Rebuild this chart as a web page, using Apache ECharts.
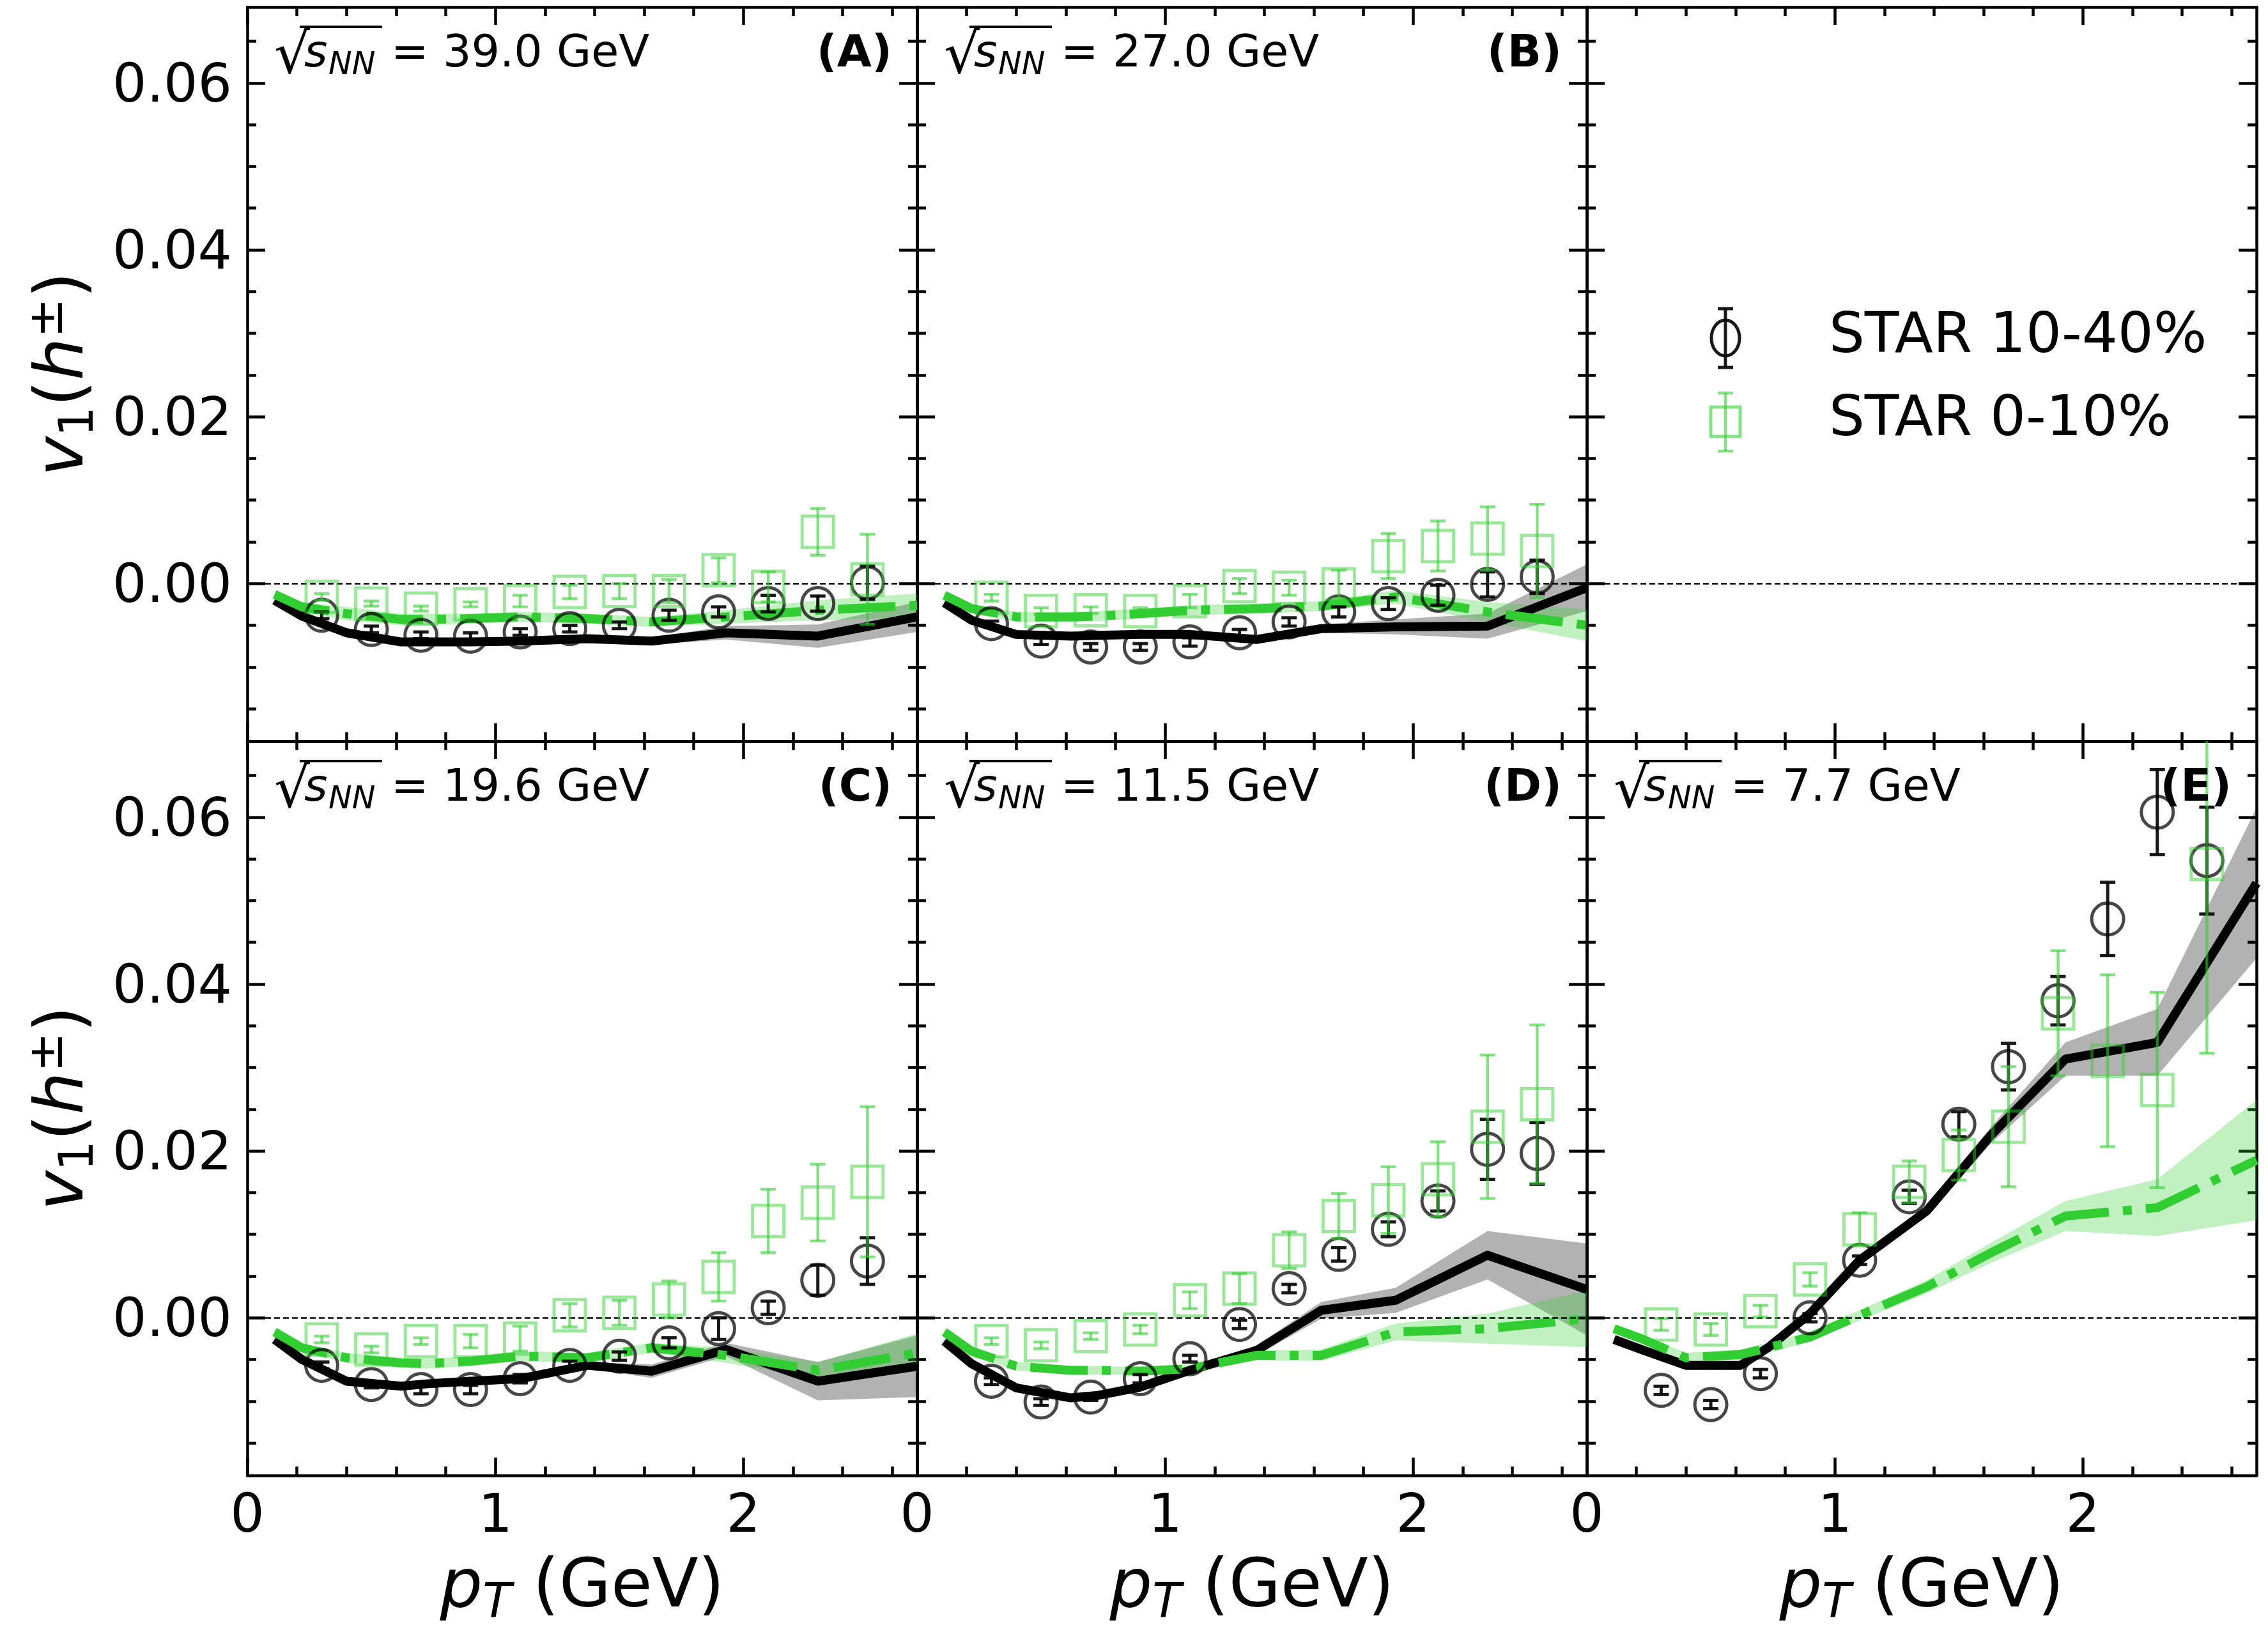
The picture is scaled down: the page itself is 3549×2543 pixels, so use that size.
<!DOCTYPE html>
<html>
<head>
<meta charset="utf-8">
<script src="https://cdn.jsdelivr.net/npm/echarts@6.0.0/dist/echarts.min.js"></script>
<style>
html,body{margin:0;padding:0;background:#ffffff;}
#chart{width:3549px;height:2543px;}
</style>
</head>
<body>
<div id="chart"></div>
<script>
// ---------------- categories / ticks / labels ----------------
const pT = [0.3, 0.5, 0.7, 0.9, 1.1, 1.3, 1.5, 1.7, 1.9, 2.1, 2.3, 2.5];
const modelPt = [0.11, 0.22, 0.40, 0.62, 0.73, 0.90, 1.10, 1.37, 1.63, 1.93, 2.30, 2.70];
const xMajorTicks = [0, 1, 2];
const xMinorTicks = [0.2, 0.4, 0.6, 0.8, 1.2, 1.4, 1.6, 1.8, 2.2, 2.4, 2.6];
const yMajorTicks = [0, 0.02, 0.04, 0.06];
const yMinorTicks = [-0.015, -0.01, -0.005, 0.005, 0.01, 0.015, 0.025, 0.03, 0.035, 0.045, 0.05, 0.055, 0.065];
const energyLabels = ['39.0 GeV', '27.0 GeV', '19.6 GeV', '11.5 GeV', '7.7 GeV'];
const panelTags = ['(A)', '(B)', '(C)', '(D)', '(E)'];
const legendLabels = ['STAR 10-40%', 'STAR 0-10%'];

// ---------------- 39.0 GeV ----------------
const star1040_39 = [-0.0038, -0.0055, -0.0062, -0.0063, -0.0058, -0.0054, -0.0050, -0.0038, -0.0034, -0.0024, -0.0024, 0.0001];
const star1040_39_err = [0.0004, 0.0004, 0.0004, 0.0004, 0.0004, 0.0004, 0.0004, 0.0006, 0.0006, 0.0010, 0.0009, 0.0020];
const star010_39 = [-0.0016, -0.0024, -0.0030, -0.0025, -0.0021, -0.0010, -0.0009, -0.0009, 0.0016, -0.0004, 0.0062, 0.0005];
const star010_39_err = [0.0004, 0.0003, 0.0003, 0.0003, 0.0007, 0.0008, 0.0009, 0.0014, 0.0015, 0.0018, 0.0028, 0.0054];
const model1040_39 = [-0.0020, -0.0039, -0.0059, -0.0070, -0.0070, -0.0070, -0.0069, -0.0066, -0.0069, -0.0059, -0.0063, -0.0040];
const model1040_39_band = [0.0003, 0.0003, 0.0003, 0.0003, 0.0003, 0.0003, 0.0003, 0.0003, 0.0004, 0.0008, 0.0014, 0.0018];
const model010_39 = [-0.0013, -0.0028, -0.0036, -0.0043, -0.0043, -0.0042, -0.0040, -0.0042, -0.0046, -0.0040, -0.0032, -0.0026];
const model010_39_band = [0.0004, 0.0006, 0.0008, 0.0007, 0.0007, 0.0006, 0.0006, 0.0006, 0.0006, 0.0008, 0.0012, 0.0014];

// ---------------- 27.0 GeV ----------------
const star1040_27 = [-0.0048, -0.0069, -0.0076, -0.0076, -0.0070, -0.0059, -0.0046, -0.0034, -0.0024, -0.0014, -0.0001, 0.0008];
const star1040_27_err = [0.0003, 0.0004, 0.0004, 0.0004, 0.0005, 0.0004, 0.0005, 0.0006, 0.0007, 0.0012, 0.0015, 0.0020];
const star010_27 = [-0.0017, -0.0033, -0.0032, -0.0033, -0.0021, -0.0003, -0.0005, -0.0001, 0.0033, 0.0045, 0.0054, 0.0039];
const star010_27_err = [0.0004, 0.0004, 0.0004, 0.0004, 0.0008, 0.0009, 0.0009, 0.0017, 0.0027, 0.0030, 0.0038, 0.0056];
const model1040_27 = [-0.0023, -0.0044, -0.0061, -0.0063, -0.0062, -0.0061, -0.0061, -0.0067, -0.0054, -0.0052, -0.0051, -0.0005];
const model1040_27_band = [0.0003, 0.0003, 0.0003, 0.0003, 0.0003, 0.0003, 0.0003, 0.0004, 0.0005, 0.0009, 0.0015, 0.0028];
const model010_27 = [-0.0014, -0.0030, -0.0040, -0.0040, -0.0039, -0.0036, -0.0032, -0.0030, -0.0027, -0.0016, -0.0034, -0.0050];
const model010_27_band = [0.0004, 0.0005, 0.0006, 0.0006, 0.0006, 0.0006, 0.0006, 0.0006, 0.0006, 0.0008, 0.0012, 0.0019];

// ---------------- 19.6 GeV ----------------
const star1040_19 = [-0.0057, -0.0080, -0.0086, -0.0086, -0.0073, -0.0057, -0.0046, -0.0030, -0.0013, 0.0012, 0.0045, 0.0068];
const star1040_19_err = [0.0004, 0.0004, 0.0005, 0.0005, 0.0005, 0.0005, 0.0005, 0.0006, 0.0013, 0.0008, 0.0018, 0.0028];
const star010_19 = [-0.0026, -0.0038, -0.0028, -0.0028, -0.0025, 0.0003, 0.0006, 0.0022, 0.0049, 0.0116, 0.0138, 0.0163];
const star010_19_err = [0.0004, 0.0004, 0.0004, 0.0008, 0.0015, 0.0014, 0.0015, 0.0022, 0.0029, 0.0038, 0.0046, 0.0090];
const model1040_19 = [-0.0026, -0.0050, -0.0076, -0.0082, -0.0079, -0.0076, -0.0073, -0.0057, -0.0064, -0.0038, -0.0076, -0.0058];
const model1040_19_band = [0.0003, 0.0003, 0.0003, 0.0003, 0.0003, 0.0003, 0.0003, 0.0004, 0.0008, 0.0008, 0.0023, 0.0037];
const model010_19 = [-0.0017, -0.0036, -0.0048, -0.0054, -0.0055, -0.0052, -0.0046, -0.0048, -0.0036, -0.0045, -0.0063, -0.0042];
const model010_19_band = [0.0004, 0.0005, 0.0006, 0.0006, 0.0006, 0.0006, 0.0006, 0.0006, 0.0006, 0.0009, 0.0010, 0.0023];

// ---------------- 11.5 GeV ----------------
const star1040_11 = [-0.0076, -0.0101, -0.0095, -0.0073, -0.0049, -0.0008, 0.0035, 0.0076, 0.0106, 0.0140, 0.0202, 0.0197];
const star1040_11_err = [0.0004, 0.0004, 0.0004, 0.0005, 0.0004, 0.0005, 0.0005, 0.0008, 0.0009, 0.0012, 0.0036, 0.0037];
const star010_11 = [-0.0028, -0.0033, -0.0022, -0.0014, 0.0021, 0.0035, 0.0081, 0.0122, 0.0141, 0.0166, 0.0229, 0.0256];
const star010_11_err = [0.0004, 0.0004, 0.0004, 0.0005, 0.0010, 0.0018, 0.0022, 0.0027, 0.0040, 0.0045, 0.0086, 0.0095];
const model1040_11 = [-0.0028, -0.0055, -0.0084, -0.0096, -0.0093, -0.0083, -0.0063, -0.0039, 0.0009, 0.0021, 0.0075, 0.0034];
const model1040_11_band = [0.0003, 0.0003, 0.0003, 0.0003, 0.0003, 0.0003, 0.0004, 0.0006, 0.0010, 0.0015, 0.0029, 0.0055];
const model010_11 = [-0.0017, -0.0040, -0.0058, -0.0063, -0.0063, -0.0064, -0.0061, -0.0045, -0.0045, -0.0017, -0.0013, -0.0001];
const model010_11_band = [0.0004, 0.0005, 0.0005, 0.0005, 0.0005, 0.0005, 0.0005, 0.0006, 0.0007, 0.0010, 0.0018, 0.0034];

// ---------------- 7.7 GeV ----------------
const star1040_7 = [-0.0087, -0.0104, -0.0067, 0.0000, 0.0069, 0.0145, 0.0232, 0.0301, 0.0380, 0.0478, 0.0606, 0.0548];
const star1040_7_err = [0.0005, 0.0005, 0.0005, 0.0005, 0.0005, 0.0008, 0.0015, 0.0028, 0.0029, 0.0044, 0.0051, 0.0064];
const star010_7 = [-0.0008, -0.0014, 0.0008, 0.0046, 0.0106, 0.0163, 0.0195, 0.0229, 0.0365, 0.0308, 0.0273, 0.0544];
const star010_7_err = [0.0007, 0.0007, 0.0007, 0.0008, 0.0020, 0.0025, 0.0030, 0.0072, 0.0075, 0.0103, 0.0117, 0.0227];
const model1040_7 = [-0.0026, -0.0038, -0.0057, -0.0057, -0.0036, 0.0005, 0.0069, 0.0128, 0.0219, 0.0310, 0.0330, 0.0521];
const model1040_7_band = [0.0003, 0.0003, 0.0003, 0.0003, 0.0003, 0.0004, 0.0004, 0.0005, 0.0010, 0.0020, 0.0040, 0.0090];
const model010_7 = [-0.0013, -0.0025, -0.0048, -0.0044, -0.0036, -0.0023, 0.0003, 0.0037, 0.0078, 0.0122, 0.0132, 0.0189];
const model010_7_band = [0.0004, 0.0005, 0.0006, 0.0006, 0.0006, 0.0006, 0.0006, 0.0008, 0.0012, 0.0018, 0.0034, 0.0072];

// ---------------- layout / style ----------------
const FONT = '"DejaVu Sans", sans-serif';
const COL_LEFT = [387, 1435, 2483];
const ROW_TOP = [11, 1160];
const PW = 1048, PH = 1149;
const X_MIN = 0, X_MAX = 2.7, Y_MIN = -0.0189, Y_MAX = 0.0691;
const BLACK_MK = 'rgba(0,0,0,0.9)';
const GREEN_MK = 'rgba(50,205,50,0.6)';
const LIME = '#32cd32';
const GRAY_BAND = 'rgba(0,0,0,0.3)';
const GREEN_BAND = 'rgba(50,205,50,0.3)';
const gridPos = [[0, 0], [0, 1], [0, 2], [1, 0], [1, 1], [1, 2]];

const panels = [
  {g: 0, d1: star1040_39, e1: star1040_39_err, d2: star010_39, e2: star010_39_err, m1: model1040_39, b1: model1040_39_band, m2: model010_39, b2: model010_39_band},
  {g: 1, d1: star1040_27, e1: star1040_27_err, d2: star010_27, e2: star010_27_err, m1: model1040_27, b1: model1040_27_band, m2: model010_27, b2: model010_27_band},
  {g: 3, d1: star1040_19, e1: star1040_19_err, d2: star010_19, e2: star010_19_err, m1: model1040_19, b1: model1040_19_band, m2: model010_19, b2: model010_19_band},
  {g: 4, d1: star1040_11, e1: star1040_11_err, d2: star010_11, e2: star010_11_err, m1: model1040_11, b1: model1040_11_band, m2: model010_11, b2: model010_11_band},
  {g: 5, d1: star1040_7, e1: star1040_7_err, d2: star010_7, e2: star010_7_err, m1: model1040_7, b1: model1040_7_band, m2: model010_7, b2: model010_7_band}
];

// ---------------- axes ----------------
const grids = [], xAxes = [], yAxes = [];
const AXW = 4.5, TKW = 4.5, MAJ = 28, MIN = 14;
const tickLbl = {fontSize: 84, fontFamily: FONT, color: '#000'};
gridPos.forEach(([r, c], g) => {
  grids.push({left: COL_LEFT[c], top: ROW_TOP[r], width: PW, height: PH, containLabel: false});
  const showX = r === 1, showY = c === 0;
  ['bottom', 'top'].forEach(pos => {
    xAxes.push({gridIndex: g, type: 'value', min: X_MIN, max: X_MAX, position: pos,
      axisLine: {show: true, onZero: false, lineStyle: {color: '#000', width: AXW}},
      axisTick: {show: true, inside: true, length: MAJ, lineStyle: {color: '#000', width: TKW}, customValues: xMajorTicks},
      axisLabel: Object.assign({show: pos === 'bottom' && showX, customValues: xMajorTicks, margin: 24, formatter: v => String(v)}, tickLbl),
      splitLine: {show: false}});
    xAxes.push({gridIndex: g, type: 'value', min: X_MIN, max: X_MAX, position: pos,
      axisLine: {show: false, onZero: false},
      axisTick: {show: true, inside: true, length: MIN, lineStyle: {color: '#000', width: TKW}, customValues: xMinorTicks},
      axisLabel: {show: false}, splitLine: {show: false}});
  });
  ['left', 'right'].forEach(pos => {
    yAxes.push({gridIndex: g, type: 'value', min: Y_MIN, max: Y_MAX, position: pos,
      axisLine: {show: true, onZero: false, lineStyle: {color: '#000', width: AXW}},
      axisTick: {show: true, inside: true, length: MAJ, lineStyle: {color: '#000', width: TKW}, customValues: yMajorTicks},
      axisLabel: Object.assign({show: pos === 'left' && showY, customValues: yMajorTicks, margin: 24,
        formatter: v => '{t|' + v.toFixed(2) + '}',
        rich: {t: {fontSize: 84, fontFamily: FONT, color: '#000', padding: [14, 0, 0, 0]}}}, tickLbl),
      splitLine: {show: false}});
    yAxes.push({gridIndex: g, type: 'value', min: Y_MIN, max: Y_MAX, position: pos,
      axisLine: {show: false, onZero: false},
      axisTick: {show: true, inside: true, length: MIN, lineStyle: {color: '#000', width: TKW}, customValues: yMinorTicks},
      axisLabel: {show: false}, splitLine: {show: false}});
  });
});

// ---------------- series builders ----------------
function bandSeries(g, xs, mid, half, fill, z) {
  return {type: 'custom', xAxisIndex: g * 4, yAxisIndex: g * 4, z, clip: true, silent: true,
    data: [[xs[0], mid[0]]],
    renderItem: (params, api) => {
      const pts = [];
      for (let i = 0; i < xs.length; i++) pts.push(api.coord([xs[i], mid[i] + half[i]]));
      for (let i = xs.length - 1; i >= 0; i--) pts.push(api.coord([xs[i], mid[i] - half[i]]));
      return {type: 'polygon', shape: {points: pts}, style: {fill: fill, stroke: null}};
    }};
}
function errSeries(g, xs, ys, es, stroke, lw, cap, z) {
  return {type: 'custom', xAxisIndex: g * 4, yAxisIndex: g * 4, z, clip: true, silent: true,
    data: xs.map((x, i) => [x, ys[i], es[i]]),
    encode: {x: 0, y: 1},
    renderItem: (params, api) => {
      const x = api.value(0), y = api.value(1), e = api.value(2);
      const t = api.coord([x, y + e]), b = api.coord([x, y - e]);
      const st = {stroke: stroke, lineWidth: lw, fill: null};
      return {type: 'group', children: [
        {type: 'line', shape: {x1: t[0], y1: t[1], x2: b[0], y2: b[1]}, style: st},
        {type: 'line', shape: {x1: t[0] - cap, y1: t[1], x2: t[0] + cap, y2: t[1]}, style: st},
        {type: 'line', shape: {x1: b[0] - cap, y1: b[1], x2: b[0] + cap, y2: b[1]}, style: st}
      ]};
    }};
}
const zeroLine = {silent: true, symbol: ['none', 'none'], label: {show: false},
  lineStyle: {color: '#000', width: 2.5, type: [9, 5]}, data: [{yAxis: 0}], animation: false};

const series = [];
panels.forEach(p => {
  const g = p.g;
  series.push(bandSeries(g, modelPt, p.m1, p.b1, GRAY_BAND, 1));
  series.push(bandSeries(g, modelPt, p.m2, p.b2, GREEN_BAND, 2));
  series.push({type: 'line', xAxisIndex: g * 4, yAxisIndex: g * 4, z: 3, silent: true, clip: true,
    symbol: 'none', data: modelPt.map((x, i) => [x, p.m1[i]]),
    lineStyle: {color: '#000', width: 14, join: 'round', cap: 'butt'}, markLine: zeroLine});
  series.push({type: 'line', xAxisIndex: g * 4, yAxisIndex: g * 4, z: 4, silent: true, clip: true,
    symbol: 'none', data: modelPt.map((x, i) => [x, p.m2[i]]),
    lineStyle: {color: LIME, width: 14, join: 'round', cap: 'butt', type: [90, 22, 14, 22]}});
  series.push(errSeries(g, pT, p.d1, p.e1, BLACK_MK, 5, 12, 5));
  series.push({type: 'scatter', xAxisIndex: g * 4, yAxisIndex: g * 4, z: 6, silent: true, clip: true,
    symbol: 'circle', symbolSize: 50, data: pT.map((x, i) => [x, p.d1[i]]),
    itemStyle: {color: 'rgba(0,0,0,0)', borderColor: BLACK_MK, borderWidth: 5}});
  series.push(errSeries(g, pT, p.d2, p.e2, GREEN_MK, 4.5, 12, 7));
  series.push({type: 'scatter', xAxisIndex: g * 4, yAxisIndex: g * 4, z: 8, silent: true, clip: true,
    symbol: 'rect', symbolSize: 49, data: pT.map((x, i) => [x, p.d2[i]]),
    itemStyle: {color: 'rgba(0,0,0,0)', borderColor: GREEN_MK, borderWidth: 5}});
});
// legend panel: only the zero reference line
series.push({type: 'line', xAxisIndex: 8, yAxisIndex: 8, z: 3, silent: true, symbol: 'none', data: [], markLine: zeroLine});

// ---------------- text / legend graphics ----------------
const graphics = [];
const txt = (x, y, style, extra) => Object.assign({type: 'text', x, y, silent: true, z: 100,
  style: Object.assign({fontFamily: FONT, fill: '#000', align: 'left', verticalAlign: 'middle'}, style)}, extra || {});
panels.forEach((p, k) => {
  const [r, c] = gridPos[p.g];
  const L = COL_LEFT[c], T = ROW_TOP[r];
  graphics.push(txt(L + 42, T + 80, {text: '√', fontSize: 88}));
  graphics.push({type: 'line', silent: true, z: 100, shape: {x1: L + 82, y1: T + 31, x2: L + 211, y2: T + 31}, style: {stroke: '#000', lineWidth: 4}});
  graphics.push(txt(L + 89, T + 75, {text: 's', fontSize: 70, fontStyle: 'italic'}));
  graphics.push(txt(L + 127, T + 92, {text: 'NN', fontSize: 49, fontStyle: 'italic'}));
  graphics.push(txt(L + 225, T + 75, {text: '= ' + energyLabels[k], fontSize: 70}));
  graphics.push(txt(L + PW - 39, T + 75, {text: panelTags[k], fontSize: 70, fontWeight: 'bold', align: 'right'}));
});
// y-axis titles
[0, 1].forEach(r => {
  graphics.push(txt(102, ROW_TOP[r] + PH / 2, {
    text: '{i|v}{sub|1}{n|(}{i|h}{sup|±}{n|)}', align: 'center',
    rich: {
      i: {fontSize: 105, fontStyle: 'italic', fontFamily: FONT, lineHeight: 122},
      n: {fontSize: 105, fontFamily: FONT, lineHeight: 122},
      sub: {fontSize: 74, fontFamily: FONT, lineHeight: 74, verticalAlign: 'bottom'},
      sup: {fontSize: 74, fontFamily: FONT, lineHeight: 74, verticalAlign: 'top'}
    }}, {rotation: Math.PI / 2}));
});
// x-axis titles
[0, 1, 2].forEach(c => {
  graphics.push(txt(COL_LEFT[c] + PW / 2, 2487, {
    text: '{i|p}{sub|T}{n| (GeV)}', align: 'center',
    rich: {
      i: {fontSize: 105, fontStyle: 'italic', fontFamily: FONT, lineHeight: 122},
      n: {fontSize: 105, fontFamily: FONT, lineHeight: 122},
      sub: {fontSize: 74, fontStyle: 'italic', fontFamily: FONT, lineHeight: 74, verticalAlign: 'bottom'}
    }}));
});
// legend (panel top-right)
const LX = 2700;
graphics.push({type: 'ellipse', silent: true, z: 100, shape: {cx: LX, cy: 529, rx: 22, ry: 28}, style: {fill: null, stroke: BLACK_MK, lineWidth: 5}});
[[LX, 483, LX, 575], [LX - 12, 483, LX + 12, 483], [LX - 12, 575, LX + 12, 575]].forEach(s =>
  graphics.push({type: 'line', silent: true, z: 100, shape: {x1: s[0], y1: s[1], x2: s[2], y2: s[3]}, style: {stroke: BLACK_MK, lineWidth: 5}}));
graphics.push({type: 'rect', silent: true, z: 100, shape: {x: LX - 23, y: 637, width: 46, height: 46}, style: {fill: null, stroke: GREEN_MK, lineWidth: 5}});
[[LX, 615, LX, 706], [LX - 12, 615, LX + 12, 615], [LX - 12, 706, LX + 12, 706]].forEach(s =>
  graphics.push({type: 'line', silent: true, z: 100, shape: {x1: s[0], y1: s[1], x2: s[2], y2: s[3]}, style: {stroke: GREEN_MK, lineWidth: 4.5}}));
graphics.push(txt(2862, 528, {text: legendLabels[0], fontSize: 88}));
graphics.push(txt(2862, 658, {text: legendLabels[1], fontSize: 88}));

const chart = echarts.init(document.getElementById('chart'), null, {renderer: 'canvas'});
chart.setOption({
  animation: false,
  backgroundColor: '#ffffff',
  grid: grids,
  xAxis: xAxes,
  yAxis: yAxes,
  series: series,
  graphic: graphics
});
</script>
</body>
</html>
